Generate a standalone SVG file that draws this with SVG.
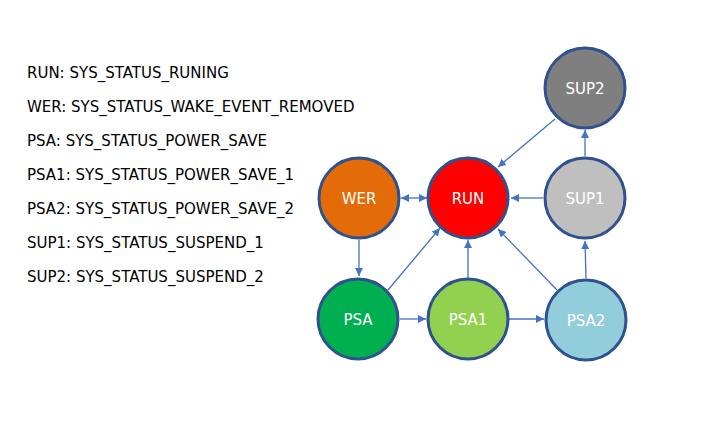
<svg xmlns="http://www.w3.org/2000/svg" width="702" height="426" viewBox="0 0 702 426">
<defs>
<marker id="ah" viewBox="0 0 10 10" refX="10" refY="5" markerWidth="8" markerHeight="8" markerUnits="userSpaceOnUse" orient="auto-start-reverse">
<path d="M0,0 L10,5 L0,10 z" fill="#4472C4"/>
</marker>
</defs>
<style>
.legend{font-family:"DejaVu Sans","Liberation Sans",sans-serif;font-size:15px;fill:#000}
.node circle{stroke:#2F528F;stroke-width:3}
.node text{font-family:"DejaVu Sans","Liberation Sans",sans-serif;font-size:15px;fill:#fff;text-anchor:middle}
.edge{stroke:#4472C4;stroke-width:1.3;fill:none;marker-end:url(#ah)}
</style>
<rect width="702" height="426" fill="#fff"/>
<g id="legend">
<text class="legend" x="27" y="78">RUN: SYS_STATUS_RUNING</text>
<text class="legend" x="27" y="112">WER: SYS_STATUS_WAKE_EVENT_REMOVED</text>
<text class="legend" x="27" y="146">PSA: SYS_STATUS_POWER_SAVE</text>
<text class="legend" x="27" y="180">PSA1: SYS_STATUS_POWER_SAVE_1</text>
<text class="legend" x="27" y="214">PSA2: SYS_STATUS_POWER_SAVE_2</text>
<text class="legend" x="27" y="248">SUP1: SYS_STATUS_SUSPEND_1</text>
<text class="legend" x="27" y="282">SUP2: SYS_STATUS_SUSPEND_2</text>
</g>
<g id="connectors">
<line class="edge" x1="401" y1="198" x2="427" y2="198" marker-start="url(#ah)"/>
<line class="edge" x1="359" y1="240" x2="359" y2="276"/>
<line class="edge" x1="388" y1="290" x2="440" y2="228"/>
<line class="edge" x1="468" y1="278" x2="468" y2="240"/>
<line class="edge" x1="557" y1="290" x2="498" y2="229"/>
<line class="edge" x1="400" y1="319" x2="426" y2="319"/>
<line class="edge" x1="509" y1="319" x2="544" y2="319"/>
<line class="edge" x1="586" y1="278" x2="585" y2="241"/>
<line class="edge" x1="543" y1="198" x2="511" y2="198"/>
<line class="edge" x1="585" y1="156" x2="585" y2="130"/>
<line class="edge" x1="555" y1="119" x2="498" y2="167"/>
</g>
<g id="WER" class="node"><circle cx="359" cy="198" r="40" fill="#E36C09"/><text x="359" y="204">WER</text></g>
<g id="RUN" class="node"><circle cx="468" cy="198" r="40" fill="#FF0000"/><text x="468" y="204">RUN</text></g>
<g id="SUP2" class="node"><circle cx="585" cy="88" r="40" fill="#7F7F7F"/><text x="585" y="94">SUP2</text></g>
<g id="SUP1" class="node"><circle cx="585" cy="198" r="40" fill="#BFBFBF"/><text x="585" y="204">SUP1</text></g>
<g id="PSA" class="node"><circle cx="358" cy="319" r="40" fill="#00B050"/><text x="358" y="325">PSA</text></g>
<g id="PSA1" class="node"><circle cx="468" cy="319" r="40" fill="#92D050"/><text x="468" y="325">PSA1</text></g>
<g id="PSA2" class="node"><circle cx="586" cy="320" r="40" fill="#92CDDC"/><text x="586" y="326">PSA2</text></g>
</svg>
